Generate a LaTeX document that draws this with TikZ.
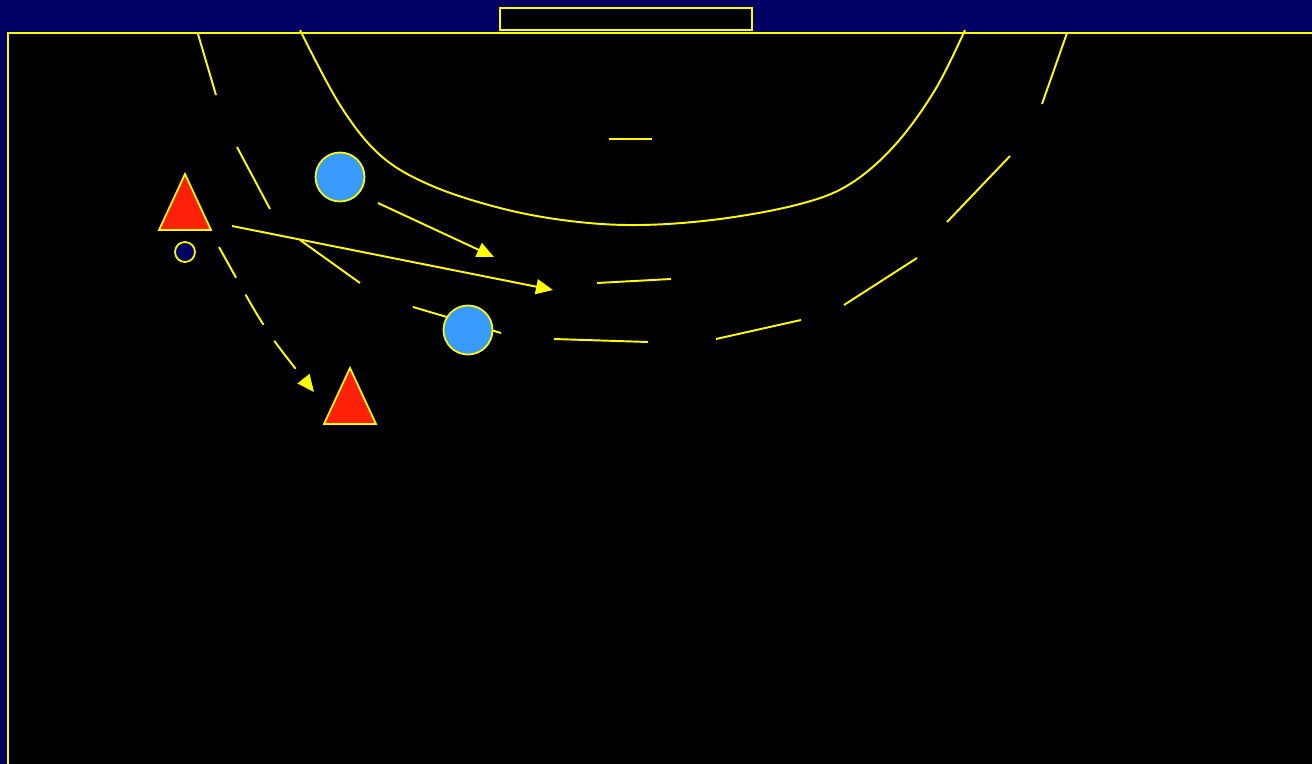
\documentclass[tikz,border=0pt]{standalone}
\usepackage{tikz}
\usetikzlibrary{arrows.meta}
\definecolor{Navy}{HTML}{000064}
\definecolor{Lemon}{HTML}{FFFF00}
\definecolor{Sky}{HTML}{3A9BFF}
\definecolor{Blood}{HTML}{FF2008}

\tikzset{
  court/.style={Lemon,line width=1.1pt},
  defender/.style={circle,draw=Lemon,fill=Sky,line width=1pt,minimum size=0.98cm,inner sep=0pt},
  attacker/.style={draw=Lemon,fill=Blood,line width=1pt,line join=miter},
  run/.style={Lemon,line width=1.1pt,-{Triangle[length=0.34cm,width=0.3cm]}},
}

\begin{document}
\begin{tikzpicture}[x=0.02cm,y=-0.02cm]
      \useasboundingbox (0,0) rectangle (1312,764);
      % hall and court
      \fill[Navy] (0,0) rectangle (1312,764);
      \fill[black] (8,33) rectangle (1312,764);
      \draw[court] (1312,33) -- (8,33) -- (8,764);
      \draw[court,fill=black] (500,8) rectangle (752,30);
      % goal area
      \draw[court] plot[smooth,tension=0.6] coordinates {(300,30) (340,105) (380,155) (430,185)
        (500,208) (570,221) (640,225) (720,219) (800,204) (850,184) (895,145) (935,90) (965,30)};
      % free throw line, dashed
      \foreach \xa/\ya/\xb/\yb in {198/34/216/95,237/147/270/209,300/240/360/283,413/307/501/333,
          554/339/648/342,716/339/801/320,844/305/917/258,947/222/1010/156,1042/104/1067/33}
        \draw[court] (\xa,\ya) -- (\xb,\yb);
      \draw[court] (597,283) -- (671,279);
      \draw[court] (609,139) -- (652,139);
      % players
      \node[defender] (d1) at (340,177) {};
      \node[defender] (d2) at (468,330) {};
      \foreach \x/\y in {185/174,350/368}
        \draw[attacker] (\x,\y) -- ++(26,56) -- ++(-52,0) -- cycle;
      \node[circle,draw=Lemon,fill=Navy,line width=1pt,minimum size=0.4cm,inner sep=0pt] (ball) at (185,252) {};
      % moves
      \coordinate (d1go) at (378,203);
      \coordinate (d1to) at (494,257);
      \coordinate (a1go) at (232,226);
      \coordinate (a1to) at (553,290);
      \coordinate (passgo) at (219,247);
      \coordinate (passto) at (314,392);
      \draw[run] (d1go) -- (d1to);
      \draw[run] (a1go) -- (a1to);
      \draw[run,dash pattern=on 20pt off 11pt] (passgo) .. controls (265,330) .. (passto);
    \end{tikzpicture}
\end{document}
